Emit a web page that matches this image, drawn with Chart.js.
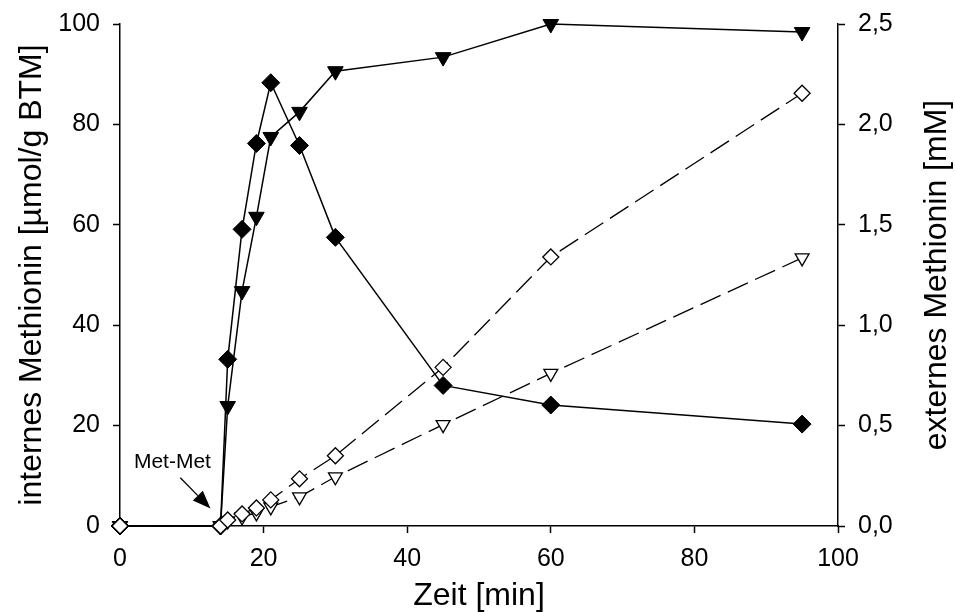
<!DOCTYPE html>
<html>
<head>
<meta charset="utf-8">
<script src="https://cdn.jsdelivr.net/npm/chart.js@4"></script>
<style>
  html, body { margin:0; padding:0; background:#fff; }
  #wrap { width:955px; height:612px; }
</style>
</head>
<body>
<div id="wrap"><canvas id="chart"></canvas></div>
<script>
// Daten
const zeit = [0, 14, 15, 17, 19, 21, 25, 30, 45, 60, 95];
const internRaute = [0, 0, 33.2, 59.1, 76.2, 88.3, 75.8, 57.5, 28.0, 24.1, 20.3];
const internDreieck = [0, 0, 23.9, 46.8, 61.6, 77.5, 82.5, 90.6, 93.4, 100, 98.4];
const externRaute = [0, 0, 0.03, 0.06, 0.09, 0.13, 0.235, 0.35, 0.79, 1.34, 2.155];
const externDreieck = [0, 0, 0.025, 0.045, 0.065, 0.095, 0.145, 0.245, 0.505, 0.76, 1.335];
const xTicks = [0, 20, 40, 60, 80, 100];
const yTicks = [0, 20, 40, 60, 80, 100];
const y2Ticks = [0, 0.5, 1.0, 1.5, 2.0, 2.5];

const FONT = '"Liberation Sans", Arial, sans-serif';

function pts(ys){ return zeit.map((x, i) => ({x, y: ys[i]})); }

// Beschriftung "Met-Met" mit Pfeil + rechter Achsentitel
const extras = {
  id: 'extras',
  afterDraw(chart){
    const {ctx, scales} = chart;
    const xs = scales.x, ys = scales.y;
    ctx.save();
    ctx.fillStyle = '#000';
    ctx.strokeStyle = '#000';
    ctx.font = '21px ' + FONT;
    ctx.textAlign = 'center';
    ctx.textBaseline = 'middle';
    ctx.fillText('Met-Met', xs.getPixelForValue(7.3), ys.getPixelForValue(12.7));
    // Pfeil
    const x0 = xs.getPixelForValue(8.4), y0 = ys.getPixelForValue(9.6);
    const x1 = xs.getPixelForValue(12.6), y1 = ys.getPixelForValue(3.5);
    const a = Math.atan2(y1 - y0, x1 - x0);
    const L = 18, W = 7;
    const bx = x1 - Math.cos(a) * L, by = y1 - Math.sin(a) * L;
    ctx.lineWidth = 1.3;
    ctx.beginPath(); ctx.moveTo(x0, y0); ctx.lineTo(bx, by); ctx.stroke();
    ctx.beginPath();
    ctx.moveTo(x1, y1);
    ctx.lineTo(bx - Math.sin(a) * W, by + Math.cos(a) * W);
    ctx.lineTo(bx + Math.sin(a) * W, by - Math.cos(a) * W);
    ctx.closePath(); ctx.fill();
    // rechter Achsentitel (von unten nach oben)
    const r = scales.y2;
    ctx.translate(937, (r.top + r.bottom) / 2);
    ctx.rotate(-Math.PI / 2);
    ctx.font = '32px ' + FONT;
    ctx.fillText('externes Methionin [mM]', 0, 0);
    ctx.restore();
  }
};

const tickFont = {family: FONT, size: 25};
const titleFont = {family: FONT, size: 32, lineHeight: 1};

// feste Achsenbreiten, kein Extra-Abstand für Randbeschriftungen
function fitY(w){ return s => { s.width = w; s.paddingTop = 0; s.paddingBottom = 0; }; }

new Chart(document.getElementById('chart'), {
  type: 'line',
  data: {
    datasets: [
      {
        data: pts(externRaute), yAxisID: 'y2',
        borderColor: '#000', borderWidth: 1.3, borderDash: [22, 8],
        pointStyle: 'rectRot', pointRadius: 8, pointBackgroundColor: '#fff',
        pointBorderColor: '#000', pointBorderWidth: 1.3, clip: false
      },
      {
        data: pts(externDreieck), yAxisID: 'y2',
        borderColor: '#000', borderWidth: 1.3, borderDash: [22, 8],
        pointStyle: 'triangle', pointRotation: 180, pointRadius: 8, pointBackgroundColor: '#fff',
        pointBorderColor: '#000', pointBorderWidth: 1.3, clip: false
      },
      {
        data: pts(internRaute), yAxisID: 'y',
        borderColor: '#000', borderWidth: 1.5,
        pointStyle: 'rectRot', pointRadius: 9, pointBackgroundColor: '#000',
        pointBorderColor: '#000', pointBorderWidth: 1, clip: false
      },
      {
        data: pts(internDreieck), yAxisID: 'y',
        borderColor: '#000', borderWidth: 1.5,
        pointStyle: 'triangle', pointRotation: 180, pointRadius: 9, pointBackgroundColor: '#000',
        pointBorderColor: '#000', pointBorderWidth: 1, clip: false
      }
    ]
  },
  options: {
    responsive: true,
    maintainAspectRatio: false,
    animation: false,
    events: [],
    layout: {padding: {top: 24, left: 0, right: 0, bottom: 0}},
    plugins: {legend: {display: false}, tooltip: {enabled: false}},
    elements: {line: {tension: 0}},
    scales: {
      x: {
        type: 'linear', min: 0, max: 100,
        afterFit: s => { s.height = 86; s.paddingLeft = 0; s.paddingRight = 0; },
        afterBuildTicks: s => { s.ticks = xTicks.map(v => ({value: v})); },
        grid: {drawOnChartArea: false, tickLength: 7, tickColor: '#000', tickWidth: 1.5},
        border: {color: '#000', width: 1.5},
        ticks: {color: '#000', font: tickFont, padding: 11, maxRotation: 0},
        title: {display: true, text: 'Zeit [min]', color: '#000', font: titleFont, padding: {top: 0, bottom: 0}}
      },
      y: {
        position: 'left', min: 0, max: 100,
        afterFit: fitY(120),
        afterBuildTicks: s => { s.ticks = yTicks.map(v => ({value: v})); },
        grid: {drawOnChartArea: false, tickLength: 7, tickColor: '#000', tickWidth: 1.5},
        border: {color: '#000', width: 1.5},
        ticks: {color: '#000', font: tickFont, padding: 13},
        title: {display: true, text: 'internes Methionin [µmol/g BTM]', color: '#000', font: titleFont, padding: {top: 16, bottom: 0}}
      },
      y2: {
        position: 'right', min: 0, max: 2.5,
        afterFit: fitY(117),
        afterBuildTicks: s => { s.ticks = y2Ticks.map(v => ({value: v})); },
        grid: {drawOnChartArea: false, tickLength: 7, tickColor: '#000', tickWidth: 1.5},
        border: {color: '#000', width: 1.5},
        ticks: {color: '#000', font: tickFont, padding: 13, callback: v => v.toFixed(1).replace('.', ',')}
      }
    }
  },
  plugins: [extras]
});
</script>
</body>
</html>
